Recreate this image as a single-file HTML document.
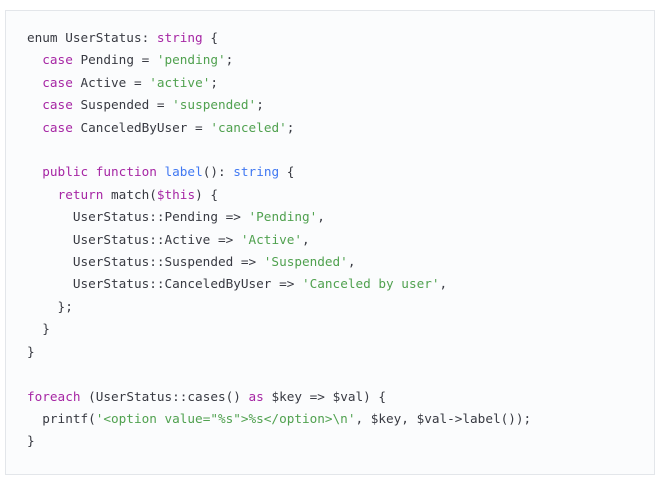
<!DOCTYPE html>
<html><head><style>
html,body{margin:0;padding:0;background:#fff;width:669px;height:495px;overflow:hidden}
.box{position:absolute;left:5px;top:10px;width:648px;height:463px;background:#fbfcfd;border:1px solid #e3e6ea}
pre{position:absolute;left:27px;top:27px;margin:0;font-family:"DejaVu Sans Mono","Liberation Mono",monospace;font-size:12.7px;line-height:22.4px;color:#383a42}
.k{color:#a626a4}.s{color:#50a14f}.f{color:#4078f2}
</style></head><body>
<div class="box"></div>
<pre>enum UserStatus: <span class="k">string</span> {
  <span class="k">case</span> Pending = <span class="s">'pending'</span>;
  <span class="k">case</span> Active = <span class="s">'active'</span>;
  <span class="k">case</span> Suspended = <span class="s">'suspended'</span>;
  <span class="k">case</span> CanceledByUser = <span class="s">'canceled'</span>;

  <span class="k">public</span> <span class="k">function</span> <span class="f">label</span>(): <span class="f">string</span> {
    <span class="k">return</span> match(<span class="k">$this</span>) {
      UserStatus::Pending =&gt; <span class="s">'Pending'</span>,
      UserStatus::Active =&gt; <span class="s">'Active'</span>,
      UserStatus::Suspended =&gt; <span class="s">'Suspended'</span>,
      UserStatus::CanceledByUser =&gt; <span class="s">'Canceled by user'</span>,
    };
  }
}

<span class="k">foreach</span> (UserStatus::cases() <span class="k">as</span> $key =&gt; $val) {
  printf(<span class="s">'&lt;option value="%s"&gt;%s&lt;/option&gt;\n'</span>, $key, $val-&gt;label());
}</pre>
</body></html>
